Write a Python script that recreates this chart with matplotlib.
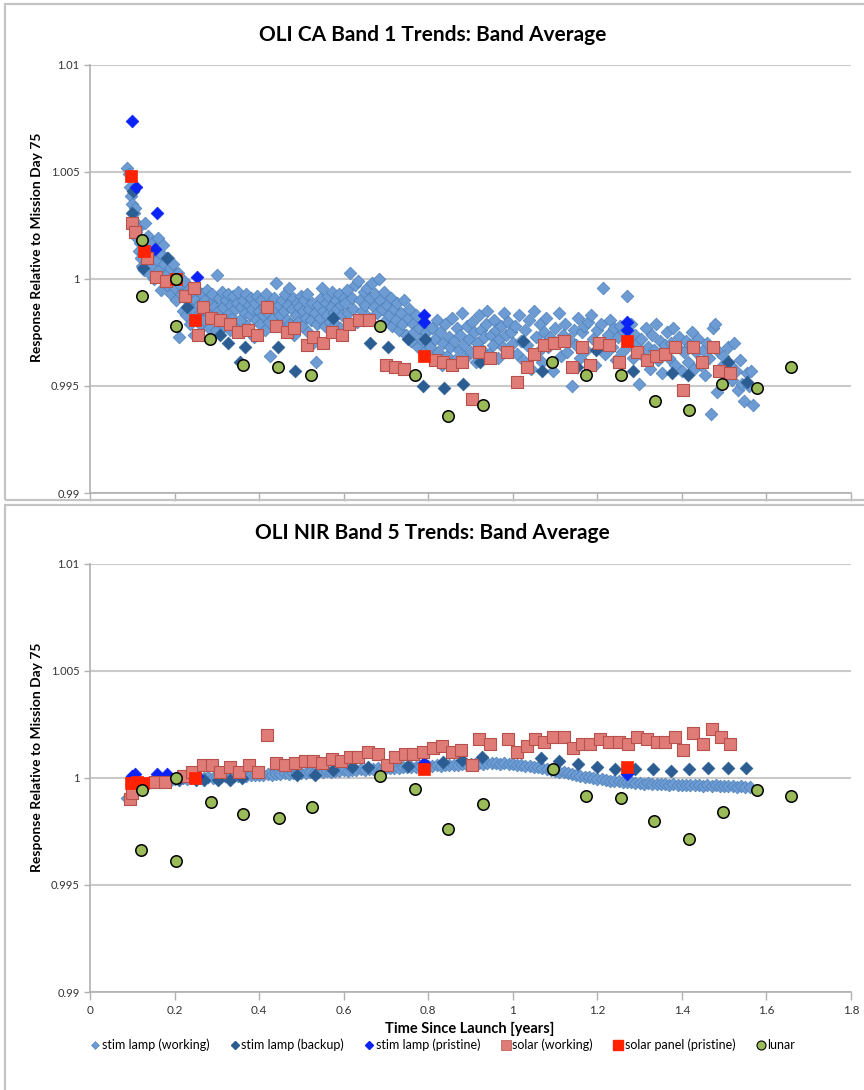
import matplotlib
matplotlib.use("Agg")
import matplotlib.pyplot as plt
from matplotlib.patches import Rectangle
from matplotlib.lines import Line2D

plt.rcParams['font.family'] = ['Lato', 'DejaVu Sans']

# ---------------- top panel: OLI CA band 1 ----------------
ca_work_x = [0.088, 0.092, 0.094, 0.097, 0.099, 0.101, 0.103, 0.105, 0.107, 0.109, 0.111, 0.113, 0.115, 0.118, 0.120,
             0.122, 0.125, 0.127, 0.130, 0.133, 0.135, 0.138, 0.140, 0.143, 0.146, 0.149, 0.152, 0.155, 0.158, 0.161,
             0.164, 0.167, 0.170, 0.173, 0.176, 0.179, 0.182, 0.185, 0.188, 0.191, 0.194, 0.197, 0.200, 0.204, 0.207,
             0.210, 0.213, 0.216, 0.219, 0.222, 0.225, 0.228, 0.231, 0.234, 0.237, 0.240, 0.243, 0.246, 0.249, 0.252,
             0.255, 0.258, 0.261, 0.264, 0.267, 0.270, 0.273, 0.276, 0.279, 0.282, 0.285, 0.288, 0.291, 0.294, 0.297,
             0.300, 0.303, 0.306, 0.309, 0.312, 0.315, 0.318, 0.321, 0.324, 0.327, 0.330, 0.333, 0.336, 0.339, 0.342,
             0.345, 0.348, 0.351, 0.354, 0.357, 0.360, 0.363, 0.366, 0.369, 0.372, 0.375, 0.378, 0.381, 0.384, 0.387,
             0.390, 0.393, 0.396, 0.399, 0.402, 0.405, 0.408, 0.411, 0.414, 0.417, 0.420, 0.423, 0.426, 0.429, 0.432,
             0.435, 0.438, 0.441, 0.444, 0.447, 0.450, 0.453, 0.456, 0.459, 0.462, 0.465, 0.468, 0.471, 0.474, 0.477,
             0.480, 0.483, 0.486, 0.489, 0.492, 0.495, 0.498, 0.501, 0.504, 0.507, 0.510, 0.513, 0.516, 0.519, 0.522,
             0.525, 0.528, 0.531, 0.534, 0.537, 0.540, 0.543, 0.546, 0.549, 0.552, 0.555, 0.558, 0.561, 0.564, 0.567,
             0.570, 0.573, 0.576, 0.579, 0.582, 0.585, 0.588, 0.591, 0.594, 0.597, 0.600, 0.603, 0.607, 0.611, 0.615,
             0.619, 0.623, 0.627, 0.631, 0.635, 0.639, 0.643, 0.647, 0.651, 0.655, 0.659, 0.663, 0.667, 0.671, 0.675,
             0.679, 0.683, 0.687, 0.691, 0.695, 0.699, 0.703, 0.707, 0.711, 0.715, 0.719, 0.723, 0.727, 0.731, 0.735,
             0.739, 0.743, 0.747, 0.751, 0.755, 0.759, 0.763, 0.767, 0.771, 0.775, 0.779, 0.783, 0.787, 0.791, 0.795,
             0.799, 0.804, 0.808, 0.812, 0.816, 0.820, 0.824, 0.828, 0.832, 0.836, 0.840, 0.844, 0.848, 0.852, 0.856,
             0.860, 0.864, 0.868, 0.872, 0.876, 0.880, 0.884, 0.888, 0.892, 0.896, 0.900, 0.904, 0.908, 0.912, 0.916,
             0.920, 0.924, 0.928, 0.932, 0.936, 0.940, 0.944, 0.948, 0.952, 0.956, 0.960, 0.964, 0.968, 0.972, 0.976,
             0.980, 0.984, 0.988, 0.992, 0.996, 1.000, 1.004, 1.009, 1.014, 1.019, 1.024, 1.029, 1.034, 1.039, 1.044,
             1.049, 1.054, 1.059, 1.064, 1.069, 1.074, 1.079, 1.084, 1.089, 1.094, 1.099, 1.104, 1.109, 1.114, 1.119,
             1.124, 1.129, 1.134, 1.139, 1.144, 1.149, 1.154, 1.159, 1.164, 1.169, 1.174, 1.179, 1.184, 1.189, 1.194,
             1.199, 1.204, 1.209, 1.214, 1.219, 1.224, 1.229, 1.234, 1.239, 1.244, 1.249, 1.254, 1.259, 1.264, 1.269,
             1.274, 1.279, 1.284, 1.289, 1.294, 1.299, 1.304, 1.309, 1.314, 1.319, 1.324, 1.329, 1.334, 1.339, 1.344,
             1.349, 1.354, 1.359, 1.364, 1.369, 1.374, 1.379, 1.384, 1.389, 1.394, 1.399, 1.404, 1.409, 1.414, 1.419,
             1.424, 1.429, 1.434, 1.439, 1.444, 1.449, 1.454, 1.459, 1.464, 1.469, 1.474, 1.478, 1.483, 1.488, 1.493,
             1.498, 1.503, 1.508, 1.513, 1.518, 1.523, 1.528, 1.533, 1.538, 1.543, 1.548, 1.553, 1.558, 1.563, 1.568]
ca_work_y = [1.0052, 1.0049, 1.0043, 1.0039, 1.0035, 1.0041, 1.0031, 1.0027, 1.0033, 1.0022, 1.0019, 1.0024, 1.0013, 1.0017, 1.0010,
             1.0006, 1.0012, 1.0004, 1.0026, 1.0015, 1.0008, 1.0020, 1.0003, 1.0011, 1.0017, 1.0006, 1.0000, 1.0013, 1.0009, 1.0019,
             1.0004, 0.9995, 1.0011, 1.0016, 1.0007, 1.0002, 0.9997, 1.0010, 1.0005, 0.9993, 1.0000, 1.0007, 0.9996, 0.9990, 1.0003,
             0.9973, 0.9997, 0.9993, 0.9985, 0.9999, 0.9991, 0.9983, 0.9995, 0.9988, 0.9979, 0.9992, 0.9986, 0.9974, 0.9990, 0.9995,
             0.9983, 0.9988, 0.9979, 0.9993, 0.9986, 0.9981, 0.9990, 0.9995, 0.9984, 0.9977, 0.9989, 0.9993, 0.9982, 0.9987, 0.9976,
             1.0002, 0.9985, 0.9991, 0.9980, 0.9994, 0.9987, 0.9978, 0.9990, 0.9983, 0.9993, 0.9976, 0.9988, 0.9982, 0.9992, 0.9986,
             0.9979, 0.9989, 0.9994, 0.9981, 0.9987, 0.9975, 0.9990, 0.9984, 0.9993, 0.9978, 0.9988, 0.9983, 0.9991, 0.9986, 0.9973,
             0.9989, 0.9981, 0.9992, 0.9985, 0.9979, 0.9990, 0.9983, 0.9987, 0.9976, 0.9993, 0.9984, 0.9980, 0.9964, 0.9989, 0.9982,
             0.9991, 0.9986, 0.9998, 0.9979, 0.9988, 0.9983, 0.9990, 0.9977, 0.9985, 0.9993, 0.9981, 0.9988, 0.9996, 0.9979, 0.9986,
             0.9991, 0.9974, 0.9983, 0.9989, 0.9980, 0.9987, 0.9992, 0.9978, 0.9985, 0.9990, 0.9982, 0.9993, 0.9975, 0.9986, 0.9981,
             0.9989, 0.9970, 0.9984, 0.9961, 0.9979, 0.9988, 0.9982, 0.9991, 0.9996, 0.9985, 0.9978, 0.9989, 0.9983, 0.9992, 0.9980,
             0.9987, 0.9994, 0.9984, 0.9979, 0.9990, 0.9986, 0.9993, 0.9977, 0.9988, 0.9983, 0.9991, 0.9989, 0.9995, 0.9984, 1.0003,
             0.9991, 0.9986, 0.9997, 0.9980, 0.9999, 0.9990, 0.9985, 0.9994, 0.9988, 0.9996, 0.9982, 0.9991, 0.9998, 0.9987, 0.9993,
             0.9984, 1.0000, 0.9990, 0.9986, 0.9994, 0.9981, 0.9988, 0.9983, 0.9991, 0.9978, 0.9986, 0.9981, 0.9989, 0.9976, 0.9984,
             0.9979, 0.9990, 0.9974, 0.9982, 0.9986, 0.9971, 0.9979, 0.9975, 0.9983, 0.9968, 0.9977, 0.9972, 0.9980, 0.9966, 0.9975,
             0.9970, 0.9968, 0.9977, 0.9963, 0.9972, 0.9981, 0.9966, 0.9975, 0.9960, 0.9970, 0.9979, 0.9964, 0.9973, 0.9968, 0.9982,
             0.9971, 0.9962, 0.9977, 0.9967, 0.9974, 0.9984, 0.9969, 0.9963, 0.9978, 0.9972, 0.9966, 0.9980, 0.9975, 0.9961, 0.9970,
             0.9983, 0.9976, 0.9967, 0.9973, 0.9979, 0.9985, 0.9965, 0.9974, 0.9969, 0.9981, 0.9976, 0.9963, 0.9972, 0.9978, 0.9968,
             0.9984, 0.9974, 0.9980, 0.9966, 0.9975, 0.9970, 0.9978, 0.9965, 0.9983, 0.9971, 0.9962, 0.9976, 0.9969, 0.9981, 0.9958,
             0.9985, 0.9973, 0.9966, 0.9979, 0.9961, 0.9975, 0.9982, 0.9968, 0.9973, 0.9957, 0.9977, 0.9970, 0.9984, 0.9964, 0.9974,
             0.9979, 0.9966, 0.9972, 0.9950, 0.9976, 0.9969, 0.9982, 0.9963, 0.9975, 0.9978, 0.9967, 0.9980, 0.9983, 0.9972, 0.9960,
             0.9976, 0.9970, 0.9979, 0.9996, 0.9965, 0.9974, 0.9981, 0.9968, 0.9977, 0.9962, 0.9973, 0.9978, 0.9966, 0.9975, 0.9992,
             0.9969, 0.9979, 0.9963, 0.9974, 0.9970, 0.9951, 0.9972, 0.9964, 0.9977, 0.9968, 0.9958, 0.9974, 0.9967, 0.9979, 0.9962,
             0.9971, 0.9956, 0.9969, 0.9975, 0.9963, 0.9970, 0.9977, 0.9960, 0.9968, 0.9973, 0.9957, 0.9966, 0.9971, 0.9961, 0.9969,
             0.9975, 0.9958, 0.9966, 0.9972, 0.9960, 0.9967, 0.9955, 0.9970, 0.9963, 0.9937, 0.9977, 0.9979, 0.9947, 0.9966, 0.9959,
             0.9964, 0.9955, 0.9968, 0.9960, 0.9953, 0.9970, 0.9957, 0.9948, 0.9962, 0.9951, 0.9943, 0.9956, 0.9950, 0.9957, 0.9941]

ca_backup_x = [0.099, 0.101, 0.125, 0.182, 0.229, 0.307, 0.326, 0.355, 0.367, 0.445, 0.485, 0.575, 0.662, 0.705, 0.752,
               0.792, 0.788, 0.837, 0.882, 0.922, 1.024, 1.069, 1.152, 1.197, 1.284, 1.377, 1.414, 1.509, 1.554]
ca_backup_y = [1.0031, 1.0041, 1.0005, 1.0010, 0.9987, 0.9974, 0.9970, 0.9961, 0.9968, 0.9968, 0.9957, 0.9982, 0.9970, 0.9968, 0.9972,
               0.9972, 0.9950, 0.9949, 0.9951, 0.9961, 0.9971, 0.9957, 0.9959, 0.9967, 0.9957, 0.9956, 0.9955, 0.9961, 0.9952]

ca_prist_x = [0.099, 0.109, 0.158, 0.154, 0.253, 0.790, 0.790, 1.270, 1.270]
ca_prist_y = [1.0074, 1.0043, 1.0031, 1.0014, 1.0001, 0.9983, 0.9980, 0.9980, 0.9976]

ca_solar_x = [0.099, 0.106, 0.135, 0.156, 0.180, 0.225, 0.246, 0.267, 0.255, 0.286, 0.307, 0.331, 0.350, 0.374, 0.395,
              0.419, 0.440, 0.466, 0.482, 0.513, 0.527, 0.551, 0.572, 0.596, 0.613, 0.636, 0.660, 0.700, 0.721, 0.743,
              0.816, 0.835, 0.856, 0.880, 0.903, 0.920, 0.946, 0.986, 1.010, 1.034, 1.050, 1.074, 1.097, 1.121, 1.140,
              1.164, 1.183, 1.204, 1.228, 1.251, 1.294, 1.317, 1.339, 1.360, 1.384, 1.402, 1.426, 1.447, 1.473, 1.488, 1.514]
ca_solar_y = [1.0026, 1.0022, 1.0010, 1.0001, 0.9999, 0.9992, 0.9996, 0.9987, 0.9974, 0.9982, 0.9981, 0.9979, 0.9975, 0.9976, 0.9974,
              0.9987, 0.9978, 0.9975, 0.9977, 0.9969, 0.9973, 0.9970, 0.9975, 0.9974, 0.9979, 0.9981, 0.9981, 0.9960, 0.9959, 0.9958,
              0.9962, 0.9961, 0.9960, 0.9961, 0.9944, 0.9966, 0.9963, 0.9966, 0.9952, 0.9959, 0.9965, 0.9969, 0.9970, 0.9971, 0.9959,
              0.9968, 0.9960, 0.9970, 0.9969, 0.9961, 0.9966, 0.9962, 0.9964, 0.9965, 0.9968, 0.9948, 0.9968, 0.9961, 0.9968, 0.9957, 0.9956]

ca_panel_x = [0.097, 0.128, 0.203, 0.248, 0.790, 1.270]
ca_panel_y = [1.0048, 1.0013, 1.0000, 0.9981, 0.9964, 0.9971]

ca_lunar_x = [0.123, 0.123, 0.203, 0.203, 0.284, 0.362, 0.445, 0.523, 0.686, 0.769,
              0.847, 0.929, 1.093, 1.173, 1.256, 1.336, 1.417, 1.495, 1.578, 1.658]
ca_lunar_y = [1.0018, 0.9992, 1.0000, 0.9978, 0.9972, 0.9960, 0.9959, 0.9955, 0.9978, 0.9955,
              0.9936, 0.9941, 0.9961, 0.9955, 0.9955, 0.9943, 0.9939, 0.9951, 0.9949, 0.9959]

# ---------------- bottom panel: OLI NIR band 5 ----------------
nir_work_x = [0.088, 0.094, 0.100, 0.106, 0.112, 0.118, 0.124, 0.131, 0.138, 0.145, 0.152, 0.160, 0.168, 0.176, 0.184,
              0.192, 0.200, 0.210, 0.220, 0.230, 0.240, 0.250, 0.260, 0.270, 0.280, 0.290, 0.300, 0.310, 0.320, 0.330,
              0.340, 0.350, 0.360, 0.370, 0.380, 0.390, 0.400, 0.410, 0.420, 0.430, 0.440, 0.450, 0.460, 0.470, 0.480,
              0.490, 0.500, 0.510, 0.520, 0.530, 0.540, 0.550, 0.560, 0.570, 0.580, 0.590, 0.600, 0.610, 0.620, 0.630,
              0.640, 0.650, 0.660, 0.670, 0.680, 0.690, 0.700, 0.710, 0.720, 0.730, 0.740, 0.750, 0.760, 0.770, 0.780,
              0.790, 0.800, 0.810, 0.820, 0.830, 0.840, 0.850, 0.860, 0.870, 0.880, 0.890, 0.900, 0.910, 0.920, 0.930,
              0.940, 0.950, 0.960, 0.970, 0.980, 0.990, 1.000, 1.010, 1.020, 1.030, 1.040, 1.050, 1.060, 1.070, 1.080,
              1.090, 1.100, 1.110, 1.120, 1.130, 1.140, 1.150, 1.160, 1.170, 1.180, 1.190, 1.200, 1.210, 1.220, 1.230,
              1.240, 1.250, 1.260, 1.270, 1.280, 1.290, 1.300, 1.310, 1.320, 1.330, 1.340, 1.350, 1.360, 1.370, 1.380,
              1.390, 1.400, 1.410, 1.420, 1.430, 1.440, 1.450, 1.460, 1.470, 1.480, 1.490, 1.500, 1.510, 1.520, 1.530,
              1.540, 1.550, 1.560]
nir_work_y = [0.99905, 0.99918, 0.99932, 0.99945, 0.99952, 0.99960, 0.99966, 0.99970, 0.99976, 0.99979, 0.99984, 0.99986, 0.99990, 0.99989, 0.99994,
              0.99992, 0.99996, 0.99994, 0.99998, 0.99996, 1.00000, 0.99998, 1.00002, 1.00000, 1.00004, 1.00002, 1.00006, 1.00004, 1.00008, 1.00006,
              1.00010, 1.00008, 1.00012, 1.00010, 1.00014, 1.00012, 1.00016, 1.00014, 1.00018, 1.00016, 1.00019, 1.00018, 1.00021, 1.00019, 1.00023,
              1.00021, 1.00025, 1.00023, 1.00027, 1.00025, 1.00029, 1.00027, 1.00031, 1.00030, 1.00034, 1.00032, 1.00036, 1.00034, 1.00038, 1.00037,
              1.00040, 1.00039, 1.00042, 1.00041, 1.00045, 1.00043, 1.00047, 1.00046, 1.00049, 1.00048, 1.00051, 1.00050, 1.00053, 1.00052, 1.00055,
              1.00054, 1.00057, 1.00056, 1.00059, 1.00058, 1.00061, 1.00060, 1.00063, 1.00062, 1.00065, 1.00064, 1.00067, 1.00066, 1.00069, 1.00067,
              1.00070, 1.00068, 1.00070, 1.00067, 1.00069, 1.00065, 1.00066, 1.00062, 1.00062, 1.00058, 1.00057, 1.00052, 1.00050, 1.00045, 1.00042,
              1.00037, 1.00034, 1.00029, 1.00026, 1.00021, 1.00018, 1.00013, 1.00010, 1.00005, 1.00003, 0.99999, 0.99997, 0.99993, 0.99992, 0.99988,
              0.99987, 0.99984, 0.99983, 0.99980, 0.99980, 0.99977, 0.99977, 0.99974, 0.99975, 0.99972, 0.99973, 0.99970, 0.99971, 0.99968, 0.99970,
              0.99967, 0.99969, 0.99966, 0.99968, 0.99965, 0.99967, 0.99964, 0.99966, 0.99963, 0.99965, 0.99962, 0.99964, 0.99961, 0.99963, 0.99960,
              0.99962, 0.99959, 0.99960]

nir_backup_x = [0.130, 0.170, 0.210, 0.250, 0.270, 0.303, 0.330, 0.360, 0.490, 0.532, 0.575, 0.620, 0.658, 0.752, 0.835,
                0.880, 0.927, 1.067, 1.109, 1.154, 1.199, 1.242, 1.289, 1.332, 1.374, 1.417, 1.462, 1.509, 1.552]
nir_backup_y = [0.99970, 0.99980, 0.99990, 0.99990, 0.99990, 0.99991, 0.99990, 1.00000, 1.00014, 1.00014, 1.00037, 1.00051, 1.00051, 1.00056, 1.00075,
                1.00084, 1.00098, 1.00093, 1.00079, 1.00065, 1.00051, 1.00042, 1.00042, 1.00042, 1.00033, 1.00042, 1.00047, 1.00047, 1.00047]

nir_prist_x = [0.099, 0.106, 0.158, 0.182, 0.253, 0.790, 1.270]
nir_prist_y = [1.0001, 1.0002, 1.0002, 1.0002, 1.0001, 1.0007, 1.0002]

nir_solar_x = [0.095, 0.099, 0.154, 0.177, 0.220, 0.241, 0.267, 0.289, 0.307, 0.331, 0.352, 0.376, 0.397, 0.419, 0.440,
               0.461, 0.485, 0.509, 0.527, 0.549, 0.572, 0.594, 0.615, 0.634, 0.658, 0.681, 0.702, 0.721, 0.745, 0.764,
               0.788, 0.811, 0.833, 0.856, 0.877, 0.903, 0.920, 0.946, 0.989, 1.010, 1.034, 1.052, 1.074, 1.095, 1.121,
               1.142, 1.164, 1.183, 1.206, 1.228, 1.251, 1.272, 1.294, 1.317, 1.341, 1.360, 1.384, 1.402, 1.426, 1.450,
               1.471, 1.492, 1.514]
nir_solar_y = [0.9990, 0.9993, 0.9998, 0.9998, 1.0001, 1.0003, 1.0006, 1.0006, 1.0003, 1.0005, 1.0003, 1.0006, 1.0003, 1.0020, 1.0007,
               1.0006, 1.0007, 1.0008, 1.0008, 1.0007, 1.0009, 1.0008, 1.0010, 1.0010, 1.0012, 1.0011, 1.0006, 1.0010, 1.0011, 1.0011,
               1.0012, 1.0014, 1.0015, 1.0012, 1.0013, 1.0006, 1.0018, 1.0016, 1.0018, 1.0012, 1.0015, 1.0018, 1.0017, 1.0019, 1.0019,
               1.0014, 1.0016, 1.0016, 1.0018, 1.0017, 1.0017, 1.0016, 1.0019, 1.0018, 1.0017, 1.0017, 1.0019, 1.0013, 1.0021, 1.0016,
               1.0023, 1.0019, 1.0016]

nir_panel_x = [0.097, 0.110, 0.125, 0.248, 0.790, 1.270]
nir_panel_y = [0.99975, 0.99980, 0.99975, 1.0000, 1.0004, 1.0005]

nir_lunar_x = [0.123, 0.121, 0.203, 0.203, 0.286, 0.362, 0.447, 0.525, 0.686, 0.769,
               0.847, 0.930, 1.095, 1.173, 1.256, 1.334, 1.417, 1.497, 1.578, 1.658]
nir_lunar_y = [0.99944, 0.99664, 1.00000, 0.99612, 0.99888, 0.99832, 0.99813, 0.99865, 1.00009, 0.99949,
               0.99762, 0.99879, 1.00042, 0.99916, 0.99907, 0.99799, 0.99715, 0.99841, 0.99944, 0.99916]

y_ticks = [0.99, 0.995, 1.0, 1.005, 1.01]
y_tick_labels = ['0.99', '0.995', '1', '1.005', '1.01']
x_ticks = [0, 0.2, 0.4, 0.6, 0.8, 1.0, 1.2, 1.4, 1.6, 1.8]
x_tick_labels = ['0', '0.2', '0.4', '0.6', '0.8', '1', '1.2', '1.4', '1.6', '1.8']

C_WORK = '#6C9CD3'
C_WORK_E = '#4F7FB8'
C_BACK = '#2B5D93'
C_PRIST = '#0A22F5'
C_SOLAR = '#E07C78'
C_SOLAR_E = '#B8504C'
C_PANEL = '#FF2200'
C_LUNAR = '#9BBB59'

fig = plt.figure(figsize=(8.64, 10.9), dpi=100)

# chart frames
fig.patches.append(Rectangle((0.006, 0.541), 1.1, 0.455, transform=fig.transFigure,
                             fill=False, edgecolor='#C4C4C4', lw=1.6, zorder=0))
fig.patches.append(Rectangle((0.006, -0.02), 1.1, 0.557, transform=fig.transFigure,
                             fill=False, edgecolor='#C4C4C4', lw=1.6, zorder=0))

ax1 = fig.add_axes([0.1042, 0.5477, 0.8808, 0.3927])
ax2 = fig.add_axes([0.1042, 0.0899, 0.8808, 0.3927])


def draw_panel(ax, work, backup, prist, solar, panel, lunar):
    ax.scatter(work[0], work[1], marker='D', s=42, c=C_WORK, edgecolors=C_WORK_E, linewidths=0.5, zorder=3)
    ax.scatter(backup[0], backup[1], marker='D', s=42, c=C_BACK, edgecolors=C_BACK, linewidths=0.5, zorder=4)
    ax.scatter(prist[0], prist[1], marker='D', s=42, c=C_PRIST, edgecolors=C_PRIST, linewidths=0.5, zorder=5)
    ax.scatter(solar[0], solar[1], marker='s', s=80, c=C_SOLAR, edgecolors=C_SOLAR_E, linewidths=0.8, zorder=6)
    ax.scatter(panel[0], panel[1], marker='s', s=80, c=C_PANEL, edgecolors=C_PANEL, linewidths=0.5, zorder=7)
    ax.scatter(lunar[0], lunar[1], marker='o', s=68, c=C_LUNAR, edgecolors='black', linewidths=1.1, zorder=8)

    ax.set_xlim(0, 1.8)
    ax.set_ylim(0.99, 1.01)
    ax.set_yticks(y_ticks)
    ax.set_yticklabels(y_tick_labels)
    ax.set_xticks(x_ticks)
    ax.yaxis.grid(True, color='#CACACA', lw=1.5)
    ax.set_axisbelow(True)
    for s in ['top', 'right']:
        ax.spines[s].set_visible(False)
    for s in ['left', 'bottom']:
        ax.spines[s].set_color('#B0B0B0')
        ax.spines[s].set_linewidth(1.2)
    ax.tick_params(axis='both', colors='#B0B0B0', labelcolor='#333333', labelsize=8, length=4, width=1)
    ax.tick_params(axis='x', length=6)


draw_panel(ax1, (ca_work_x, ca_work_y), (ca_backup_x, ca_backup_y), (ca_prist_x, ca_prist_y),
           (ca_solar_x, ca_solar_y), (ca_panel_x, ca_panel_y), (ca_lunar_x, ca_lunar_y))
draw_panel(ax2, (nir_work_x, nir_work_y), (nir_backup_x, nir_backup_y), (nir_prist_x, nir_prist_y),
           (nir_solar_x, nir_solar_y), (nir_panel_x, nir_panel_y), (nir_lunar_x, nir_lunar_y))

ax1.set_xticklabels([])
ax2.set_xticklabels(x_tick_labels)
ax2.tick_params(axis='x', labelsize=8.5)

fig.text(0.501, 1 - 35 / 1090, 'OLI CA Band 1 Trends: Band Average', ha='center', va='center',
         fontsize=15, fontweight='bold')
fig.text(0.501, 1 - 533 / 1090, 'OLI NIR Band 5 Trends: Band Average', ha='center', va='center',
         fontsize=15, fontweight='bold')
fig.text(37 / 864, 1 - 247 / 1090, 'Response Relative to Mission Day 75', rotation=90, ha='center', va='center',
         fontsize=10, fontweight='bold')
fig.text(37 / 864, 1 - 757 / 1090, 'Response Relative to Mission Day 75', rotation=90, ha='center', va='center',
         fontsize=10, fontweight='bold')
fig.text(470 / 864, 1 - 1029 / 1090, 'Time Since Launch [years]', ha='center', va='center',
         fontsize=10.5, fontweight='bold')

handles = [
    Line2D([], [], ls='', marker='D', ms=4.5, mfc=C_WORK, mec=C_WORK_E, mew=0.4, label='stim lamp (working)'),
    Line2D([], [], ls='', marker='D', ms=4.5, mfc=C_BACK, mec=C_BACK, label='stim lamp (backup)'),
    Line2D([], [], ls='', marker='D', ms=4.5, mfc=C_PRIST, mec=C_PRIST, label='stim lamp (pristine)'),
    Line2D([], [], ls='', marker='s', ms=6.5, mfc=C_SOLAR, mec=C_SOLAR_E, mew=0.5, label='solar (working)'),
    Line2D([], [], ls='', marker='s', ms=6.5, mfc=C_PANEL, mec=C_PANEL, label='solar panel (pristine)'),
    Line2D([], [], ls='', marker='o', ms=6.5, mfc=C_LUNAR, mec='black', mew=0.8, label='lunar'),
]
fig.legend(handles=handles, loc='center', bbox_to_anchor=(442 / 864, 1 - 1045 / 1090), ncol=6, frameon=False,
           fontsize=9, handletextpad=0.05, columnspacing=1.5, handlelength=1.0)

fig.savefig('out.png', dpi=100)
